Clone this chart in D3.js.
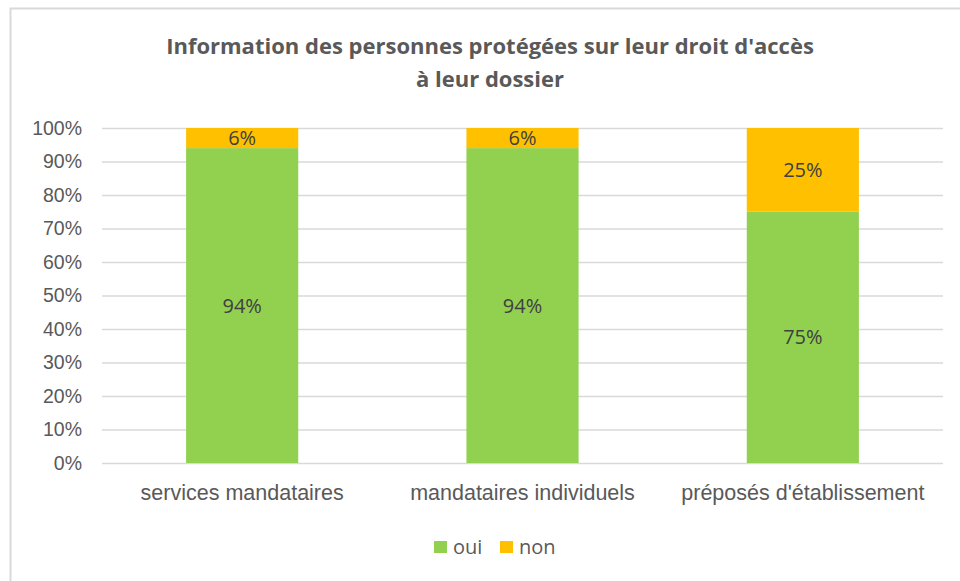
<!DOCTYPE html>
<html lang="fr">
  <head>
    <meta charset="utf-8">
    <title>Information des personnes protégées</title>
    <style type="text/css">
body { margin: 0; background: #fff; }
svg { font-family: "Open Sans", "Liberation Sans", sans-serif; }
    </style>
  </head>
  <body>
    <div id="chart"></div>
    <script src="https://cdn.jsdelivr.net/npm/d3@7"></script>
    <script>
      var categories = ["services mandataires", "mandataires individuels", "préposés d'établissement"];
      var seriesNames = ["oui", "non"];
      var oui = [0.94, 0.94, 0.75];
      var non = [0.06, 0.06, 0.25];
      var yTicks = [0, 0.1, 0.2, 0.3, 0.4, 0.5, 0.6, 0.7, 0.8, 0.9, 1];
      var colors = ["#92D050", "#FFC000"];

      var width = 960, height = 581;
      var margin = {top: 128, right: 17, bottom: 118, left: 102};
      var innerW = width - margin.left - margin.right,
          innerH = height - margin.top - margin.bottom;

      var svg = d3.select("#chart").append("svg")
          .attr("width", width)
          .attr("height", height);

      // chart frame (cut at right/bottom as in the original)
      svg.append("rect")
          .attr("x", 10.5).attr("y", 8.5)
          .attr("width", 980).attr("height", 600)
          .attr("fill", "none")
          .attr("stroke", "#d9d9d9")
          .attr("stroke-width", 2);

      svg.append("text")
          .attr("x", 490).attr("y", 54)
          .attr("text-anchor", "middle")
          .attr("font-size", 22).attr("font-weight", "bold")
          .attr("fill", "#595959")
          .text("Information des personnes protégées sur leur droit d'accès");
      svg.append("text")
          .attr("x", 490).attr("y", 87)
          .attr("text-anchor", "middle")
          .attr("font-size", 22).attr("font-weight", "bold")
          .attr("fill", "#595959")
          .text("à leur dossier");

      var g = svg.append("g").attr("transform", "translate(" + margin.left + "," + margin.top + ")");

      var x = d3.scaleBand()
          .domain(categories)
          .range([0, innerW])
          .paddingInner(0.6)
          .paddingOuter(0.3);

      var y = d3.scaleLinear()
          .domain([0, 1])
          .range([innerH, 0]);

      var fmt = d3.format(".0%");

      // gridlines
      g.append("g")
          .call(d3.axisLeft(y).tickValues(yTicks).tickSize(-innerW).tickFormat(""))
          .call(function(s) {
            s.select(".domain").remove();
            s.selectAll("line").attr("stroke", "#d9d9d9").attr("stroke-width", 1.3);
          });

      // y labels
      g.append("g")
          .call(d3.axisLeft(y).tickValues(yTicks).tickSize(0).tickPadding(20).tickFormat(fmt))
          .call(function(s) {
            s.select(".domain").remove();
            s.selectAll("text").attr("fill", "#595959").attr("font-size", 19.5);
          });

      var rows = categories.map(function(c, i) { return {cat: c, oui: oui[i], non: non[i]}; });
      var stacked = d3.stack().keys(seriesNames)(rows);

      var series = g.selectAll(".series")
        .data(stacked)
        .enter().append("g")
          .attr("fill", function(d, i) { return colors[i]; });

      series.selectAll("rect")
        .data(function(d) { return d; })
        .enter().append("rect")
          .attr("x", function(d) { return x(d.data.cat); })
          .attr("y", function(d) { return y(d[1]); })
          .attr("width", x.bandwidth())
          .attr("height", function(d) { return y(d[0]) - y(d[1]); });

      series.selectAll("text")
        .data(function(d) { return d; })
        .enter().append("text")
          .attr("x", function(d) { return x(d.data.cat) + x.bandwidth() / 2; })
          .attr("y", function(d) { return (y(d[0]) + y(d[1])) / 2; })
          .attr("dy", "0.35em")
          .attr("text-anchor", "middle")
          .attr("font-size", 20)
          .attr("fill", "#404040")
          .text(function(d) { return fmt(d[1] - d[0]); });

      // x axis labels
      g.append("g")
          .attr("transform", "translate(0," + innerH + ")")
          .call(d3.axisBottom(x).tickSize(0).tickPadding(22))
          .call(function(s) {
            s.select(".domain").remove();
            s.selectAll("text").attr("fill", "#595959").attr("font-size", 21.5);
          });

      // legend
      var legend = svg.append("g").attr("transform", "translate(434,547)");
      var items = legend.selectAll("g")
        .data(seriesNames)
        .enter().append("g")
          .attr("transform", function(d, i) { return "translate(" + (i * 66) + ",0)"; });
      items.append("rect")
          .attr("x", 0).attr("y", -6)
          .attr("width", 13).attr("height", 12)
          .attr("fill", function(d, i) { return colors[i]; });
      items.append("text")
          .attr("x", 19).attr("y", 0)
          .attr("dy", "0.35em")
          .attr("font-size", 20)
          .attr("fill", "#595959")
          .text(function(d) { return d; });
    </script>
  </body>
</html>
